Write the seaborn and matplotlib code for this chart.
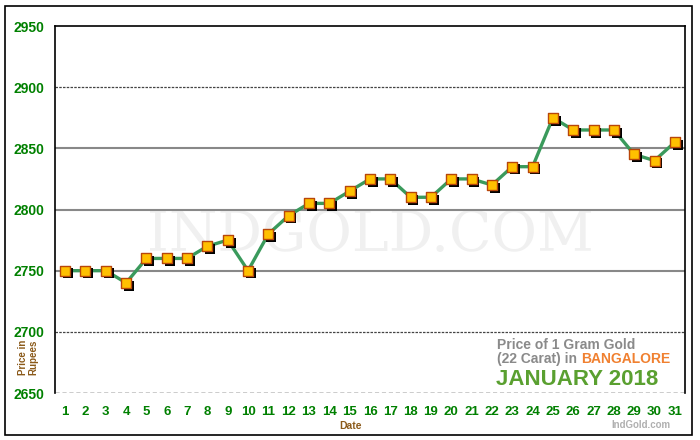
import numpy as np
import pandas as pd
import matplotlib
matplotlib.use("Agg")
import matplotlib.pyplot as plt
import matplotlib.transforms as mtransforms
from matplotlib.patches import Rectangle
import seaborn as sns

days = list(range(1, 32))
prices = [2750, 2750, 2750, 2740, 2760, 2760, 2760, 2770, 2775, 2750,
          2780, 2795, 2805, 2805, 2815, 2825, 2825, 2810, 2810, 2825,
          2825, 2820, 2835, 2835, 2875, 2865, 2865, 2865, 2845, 2840, 2855]
y_ticks = [2650, 2700, 2750, 2800, 2850, 2900, 2950]

df = pd.DataFrame({"day": days, "price": prices})

sns.set_style("white")
plt.rcParams["font.family"] = ["Liberation Sans", "DejaVu Sans"]

fig = plt.figure(figsize=(7, 4.4), dpi=100)
ax = fig.add_axes([55 / 700, 47 / 440, 630 / 700, 367 / 440])

# outer frame
fig.patches.append(Rectangle((5 / 700, 5 / 440), 687 / 700, 429 / 440,
                             transform=fig.transFigure, fill=False,
                             edgecolor="black", linewidth=1.2))

# watermark
ax.text(0.5, 0.43, "INDGOLD.COM", transform=ax.transAxes, ha="center",
        va="center", fontsize=40, color="#f0f0f0", family="DejaVu Serif",
        zorder=0)

# grid lines
for y in [2750, 2800, 2850]:
    ax.axhline(y, color="#888888", linewidth=1.5, zorder=1)
for y in [2700, 2900]:
    ax.axhline(y, color="#444444", linewidth=0.9, linestyle=(0, (2, 1)), zorder=1)
ax.axhline(2650, color="black", linewidth=1, linestyle=(0, (3, 2)), zorder=1)

sns.lineplot(data=df, x="day", y="price", ax=ax, color="#3a9a5c",
             linewidth=2.4, zorder=3)
shadow = mtransforms.offset_copy(ax.transData, fig=fig, x=2, y=-2, units="points")
ax.scatter(df["day"], df["price"], marker="s", s=48, color="black",
           transform=shadow, zorder=4, linewidths=0)
sns.scatterplot(data=df, x="day", y="price", ax=ax, marker="s", s=48,
                color="#ffc000", edgecolor="#b8460a", linewidth=1, zorder=5)

ax.set_xlim(0.5, 31.5)
ax.set_ylim(2650, 2950)
ax.set_yticks(y_ticks)
ax.set_yticklabels([str(v) for v in y_ticks], color="#008000",
                   fontweight="bold", fontsize=10)
ax.set_xticks(days)
ax.set_xticklabels([str(d) for d in days], color="#008000",
                   fontweight="bold", fontsize=9.5)
ax.set_xticks(np.arange(0.5, 32, 1), minor=True)
ax.tick_params(axis="x", which="major", length=0, pad=9)
ax.tick_params(axis="x", which="minor", length=5, width=1, color="black",
               direction="out")
ax.tick_params(axis="y", length=5, width=1, color="black", direction="out", pad=3)

for side in ["left", "top", "right"]:
    ax.spines[side].set_color("black")
    ax.spines[side].set_linewidth(1.2)
ax.spines["bottom"].set_visible(False)

ax.set_xlabel("")
ax.set_ylabel("")
fig.text(350 / 700, 1 - 426 / 440, "Date", ha="center", va="center",
         color="#8b5a1a", fontweight="bold", fontsize=7.5)
fig.text(28 / 700, 1 - 357 / 440, "Price in\nRupees", ha="center",
         va="center", rotation=90, color="#8b5a1a", fontweight="bold",
         fontsize=7, linespacing=1.0)

# caption box
fig.text(497 / 700, 1 - 345 / 440, "Price of 1 Gram Gold", ha="left",
         va="center", color="#8a8a8a", fontweight="bold", fontsize=10)
t1 = fig.text(497 / 700, 1 - 359 / 440, "(22 Carat) in ", ha="left",
              va="center", color="#8a8a8a", fontweight="bold", fontsize=10)
ax.annotate("BANGALORE", xy=(1, 0.5), xycoords=t1, ha="left", va="center",
            color="#f08030", fontweight="bold", fontsize=10,
            annotation_clip=False)
fig.text(496 / 700, 1 - 379 / 440, "JANUARY 2018", ha="left",
         va="center", color="#5aa030", fontweight="bold", fontsize=16)
fig.text(670 / 700, 1 - 425 / 440, "IndGold.com", ha="right",
         va="center", color="#b0b0b0", fontweight="bold", fontsize=7)

fig.savefig("out.png", dpi=100)
